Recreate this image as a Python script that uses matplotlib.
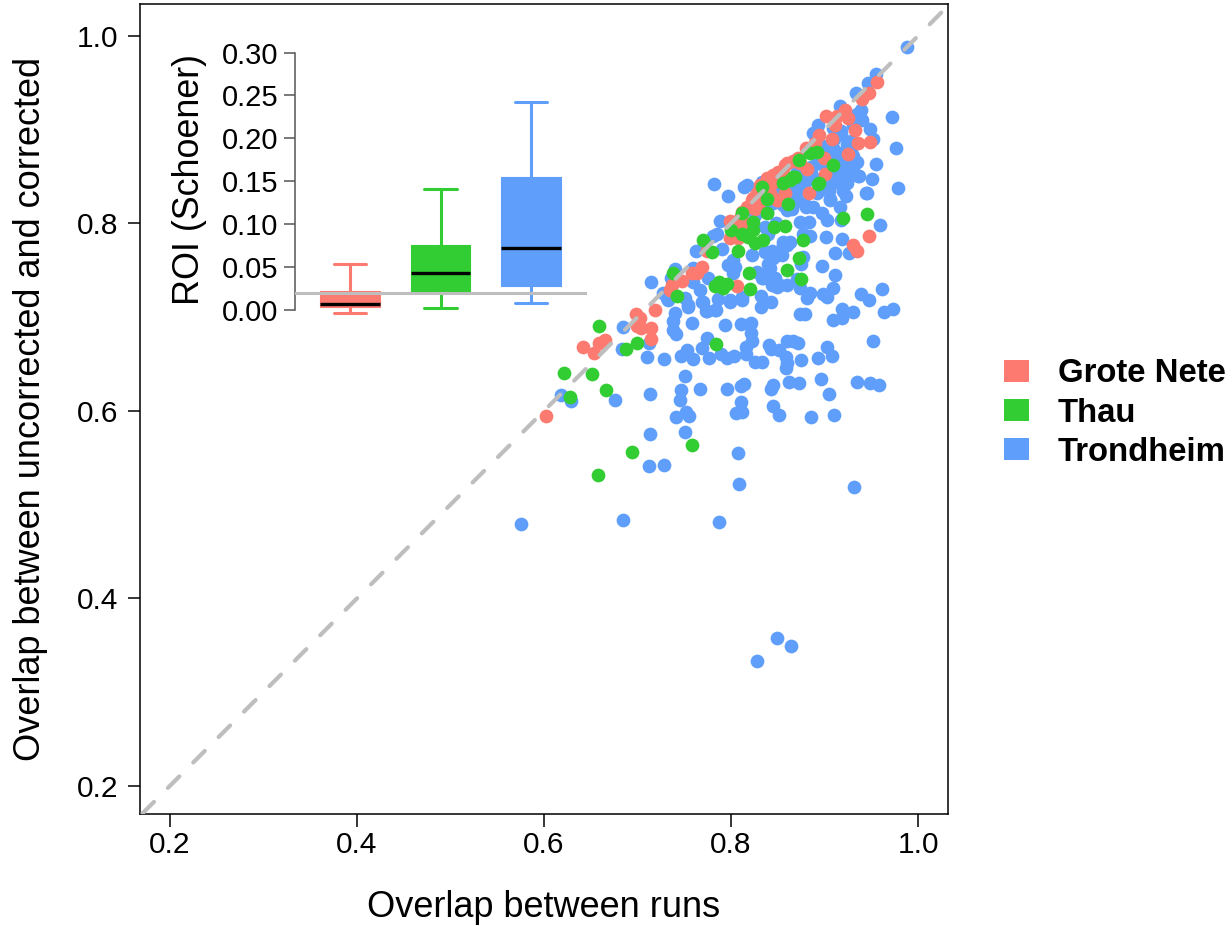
import matplotlib
matplotlib.use('Agg')
import matplotlib.pyplot as plt
from matplotlib.patches import Patch

plt.rcParams['font.family'] = ['Liberation Sans', 'DejaVu Sans']

# values
blue_x = [.575, .684, .787, .809, .807, .712, .728, .713, .751, .741, .752, .755, .713, .745, .747, .767, .796, .811, .814, .811,
          .805, .812, .751, .676, .618, .629, .710, .728, .747, .753, .759, .776, .769, .774, .789, .796, .803, .816, .826, .816,
          .822, .821, .820, .811, .794, .758, .738, .741, .738, .740, .685, .683, .712, .733, .754, .770, .774, .783, .799, .812,
          .932, .845, .851, .843, .845, .862, .873, .896, .905, .910, .886, .935, .949, .958, .952, .908, .903, .893, .875, .859,
          .860, .859, .851, .843, .841, .860, .866, .872, .833,
          .714, .782, .797, .814, .817, .788, .785, .781, .763, .790, .802, .797, .804, .802, .775, .759, .740, .736, .759, .767,
          .751, .754, .732, .727, .769, .773, .784, .786, .799, .812, .821, .832, .832, .843, .828, .834, .844, .842, .836, .844,
          .849, .855, .863, .856, .844, .849, .860, .871, .874, .884, .881, .898, .903, .909, .911, .897, .877, .875, .911, .926,
          .919, .902, .884, .874, .883, .877, .939, .948, .961, .964, .973, .930, .919, .919, .909, .874, .879, .959, .978, .945,
          .951, .936, .923, .888, .897, .903, .917, .906, .918, .924, .917, .909, .881, .871, .860, .845, .826, .836, .839, .822,
          .860, .988, .955, .946, .934, .916, .939, .935, .893, .888, .909, .949, .952, .972, .976, .955, .944, .937, .935, .924,
          .930, .924, .909, .913, .898, .892, .909, .898, .888, .874, .906, .833, .855, .828, .849, .864,
          .900, .905, .915, .920, .895, .885, .870, .865, .850, .878, .892, .928, .918, .910, .880, .868, .856, .848, .838, .830,
          .839, .845, .852, .840, .856, .861, .840, .847, .833, .852,
          .905, .915, .920, .912, .900, .915, .905, .885, .878, .870, .865, .930, .928, .918, .930, .940, .928]
blue_y = [.479, .484, .481, .522, .555, .541, .542, .575, .577, .593, .599, .595, .618, .612, .622, .623, .623, .626, .629, .609,
          .598, .599, .637, .612, .617, .610, .657, .655, .658, .665, .655, .656, .667, .678, .661, .656, .658, .661, .652, .668,
          .674, .683, .693, .693, .692, .694, .686, .682, .696, .704, .690, .666, .672, .718, .713, .716, .707, .708, .716, .718,
          .519, .605, .596, .623, .628, .631, .630, .634, .618, .596, .594, .631, .630, .628, .674, .658, .668, .656, .654, .646,
          .651, .657, .665, .666, .670, .675, .674, .672, .652,
          .737, .842, .829, .839, .841, .802, .789, .786, .770, .773, .761, .756, .753, .747, .742, .752, .751, .742, .737, .729,
          .720, .711, .720, .726, .716, .707, .708, .719, .718, .721, .694, .723, .711, .716, .748, .742, .742, .752, .769, .771,
          .766, .766, .780, .780, .734, .732, .734, .741, .731, .726, .720, .725, .721, .731, .745, .754, .764, .757, .768, .768,
          .783, .785, .787, .801, .801, .789, .725, .718, .730, .706, .709, .705, .709, .699, .697, .703, .703, .798, .838, .832,
          .847, .851, .829, .817, .811, .804, .817, .826, .804, .843, .844, .843, .846, .835, .814, .822, .809, .796, .789, .766,
          .777, .988, .959, .950, .939, .925, .921, .917, .905, .896, .902, .901, .890, .913, .880, .863, .832, .851, .865, .854,
          .872, .885, .880, .870, .883, .864, .844, .837, .849, .846, .825, .844, .855, .333, .358, .349,
          .860, .852, .862, .835, .872, .860, .855, .835, .838, .822, .832, .878, .898, .890, .818, .828, .820, .800, .812, .828,
          .768, .763, .768, .757, .777, .779, .747, .742, .742, .734,
          .875, .875, .865, .858, .845, .845, .835, .858, .838, .825, .815, .860, .888, .895, .905, .910, .915]

red_x = [.602, .642, .653, .659, .665, .698, .703, .699, .704, .714, .714, .719, .806, .947, .930, .935, .883, .764, .769, .758,
         .737, .735, .748, .774, .799, .799, .807, .806, .817, .826, .831, .844, .856, .858, .849, .824, .810,
         .956, .947, .940, .922, .902, .925, .913, .911, .933, .936, .949, .908, .894, .890, .925, .899, .901, .881, .872, .860,
         .874, .842, .849, .850, .828, .820, .834,
         .800, .812, .815, .822, .830, .838, .842, .850, .858, .866, .880, .885, .838, .826, .815, .803, .845]
red_y = [.595, .668, .662, .672, .676, .703, .699, .691, .688, .688, .677, .708, .733, .787, .777, .770, .832, .747, .753, .747,
         .734, .729, .739, .771, .803, .784, .784, .798, .817, .821, .841, .843, .853, .832, .825, .827, .806,
         .951, .939, .933, .921, .914, .912, .915, .905, .900, .886, .887, .890, .894, .886, .874, .870, .853, .858, .870, .864,
         .864, .844, .849, .825, .832, .817, .838,
         .795, .812, .800, .825, .822, .835, .832, .855, .862, .866, .880, .876, .848, .815, .790, .790, .852]

green_x = [.659, .621, .651, .666, .628, .688, .699, .784, .758, .694, .658, .742, .738, .770, .780, .807, .819, .820, .783, .787,
           .791, .796, .800, .812, .838, .833, .838, .861, .824, .812, .824, .834, .826, .818, .846, .858, .877, .873, .860, .875,
           .920, .945, .856, .866, .893, .873, .884, .892, .909, .868, .863, .894]
green_y = [.691, .640, .639, .622, .615, .666, .672, .671, .564, .556, .532, .723, .747, .782, .769, .771, .747, .730, .733, .737,
           .731, .735, .793, .811, .811, .839, .826, .821, .801, .789, .793, .782, .779, .785, .796, .797, .782, .763, .750, .741,
           .806, .810, .843, .849, .842, .868, .875, .876, .862, .849, .846, .843]

sites = ['Grote Nete', 'Thau', 'Trondheim']
roi_low = [-.004, .002, .008]
roi_q1 = [.003, .020, .028]
roi_med = [.007, .043, .072]
roi_q3 = [.022, .076, .155]
roi_high = [.053, .141, .242]

col_red = '#FC7A70'
col_green = '#32CD32'
col_blue = '#5F9EFB'
col_line = '#BEBEBE'
W, H = 1232, 926


def px_axes(left, top, right, bottom):
    return [left / W, 1 - bottom / H, (right - left) / W, (bottom - top) / H]


fig = plt.figure(figsize=(W / 100, H / 100), dpi=100)

# main scatter
ax = fig.add_axes(px_axes(140, 4, 948, 814))
ax.scatter(blue_x, blue_y, s=98, color=col_blue, linewidths=0, zorder=2)
ax.scatter(red_x, red_y, s=98, color=col_red, linewidths=0, zorder=3)
ax.scatter(green_x, green_y, s=98, color=col_green, linewidths=0, zorder=4)
ax.plot([.1435, 1.06], [.1435, 1.06], color=col_line, linewidth=3, linestyle=(0, (3.9, 4.73)), dash_capstyle='round', zorder=5)
ax.set_xlim(.168, 1.032)
ax.set_ylim(.170, 1.034)
ax.set_xticks([.2, .4, .6, .8, 1.0])
ax.set_yticks([.2, .4, .6, .8, 1.0])
ax.tick_params(length=9, width=1.1, labelsize=21.5, pad=5)
ax.tick_params(axis='x', pad=3.5)
ax.tick_params(axis='y', pad=6.5)
for s in ax.spines.values():
    s.set_linewidth(1.1)
ax.set_xlabel('Overlap between runs', fontsize=26, labelpad=22)
ax.set_ylabel('Overlap between uncorrected and corrected', fontsize=26)
ax.yaxis.set_label_coords(-.1135, .5)

# inset boxplot
ins = fig.add_axes(px_axes(295, 52.5, 587, 320), facecolor='none', zorder=6)
stats = []
for i in range(3):
    stats.append(dict(med=roi_med[i], q1=roi_q1[i], q3=roi_q3[i], whislo=roi_low[i], whishi=roi_high[i], fliers=[]))
bp = ins.bxp(stats, positions=[1, 2, 3], widths=.663, capwidths=.354, patch_artist=True, showfliers=False,
             medianprops=dict(color='black', linewidth=2.4, solid_capstyle='butt'))
for i, c in enumerate([col_red, col_green, col_blue]):
    bp['boxes'][i].set(facecolor=c, edgecolor=c, linewidth=.8)
    for part in bp['whiskers'][2 * i:2 * i + 2] + bp['caps'][2 * i:2 * i + 2]:
        part.set(color=c, linewidth=2.2, solid_capstyle='round')
ins.axhline(.02, color=col_line, linewidth=2.2, zorder=10)
ins.set_xlim(.392, 3.619)
ins.set_ylim(-.0117, .30)
ins.set_yticks([0, .05, .10, .15, .20, .25, .30])
ins.set_yticklabels(['0.00', '0.05', '0.10', '0.15', '0.20', '0.25', '0.30'])
ins.tick_params(axis='y', length=8, width=1.1, color='#555555', labelsize=21, pad=4)
ins.tick_params(axis='x', bottom=False, labelbottom=False)
for name in ['top', 'right', 'bottom']:
    ins.spines[name].set_visible(False)
ins.spines['left'].set_bounds(0, .30)
ins.spines['left'].set_color('#555555')
ins.spines['left'].set_linewidth(1.1)
ins.set_ylabel('ROI (Schoener)', fontsize=25.8)
ins.yaxis.set_label_coords(-.30, .527)

handles = [Patch(facecolor=c, edgecolor='none') for c in [col_red, col_green, col_blue]]
leg = fig.legend(handles, sites, loc='center left', bbox_to_anchor=(1004 / W, 1 - 413 / H), frameon=False,
                 prop=dict(size=23.7, weight='bold'), handlelength=.76, handleheight=.64, labelspacing=.25,
                 handletextpad=.88, borderpad=0, borderaxespad=0)

fig.savefig('out.png', dpi=100)
